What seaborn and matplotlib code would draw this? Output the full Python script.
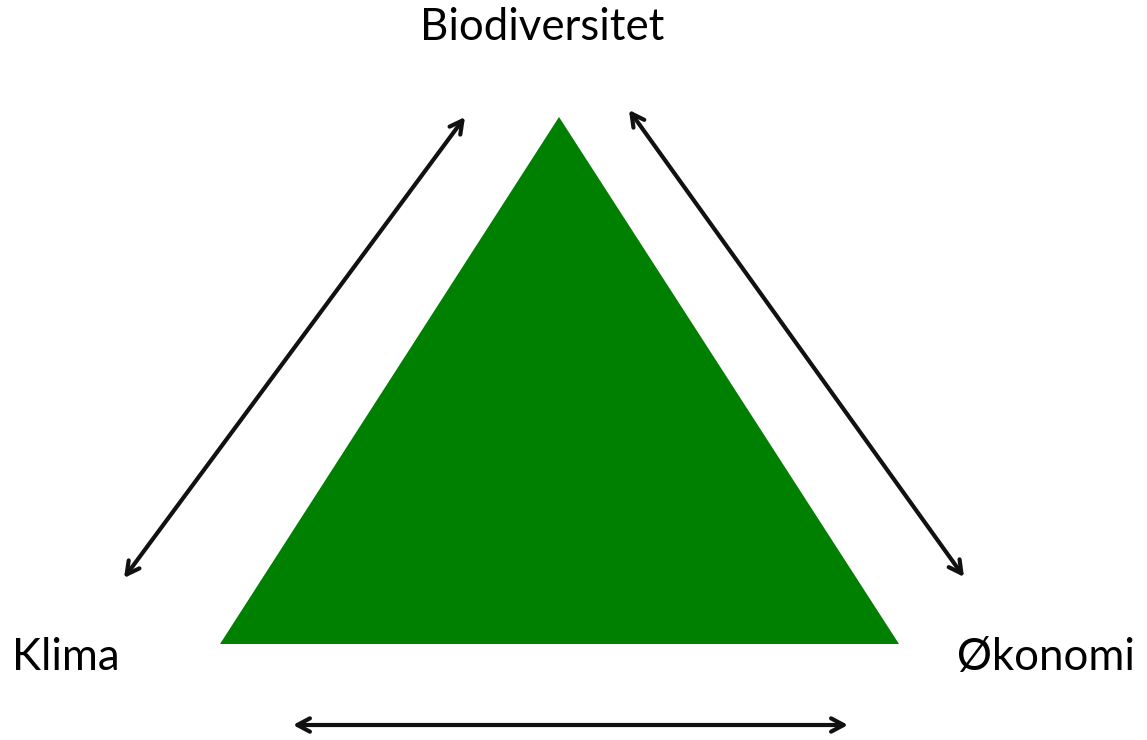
import numpy as np
import matplotlib.pyplot as plt
import seaborn as sns

# Diagram content (pixel space of a 1147x740 canvas, y grows downward)
labels = ["Biodiversitet", "Klima", "Økonomi"]
label_x = [542, 66, 1046]
label_y = [28, 657, 657]

triangle_x = [559, 220, 899]
triangle_y = [117, 644, 644]

arrow_start_x = [465, 629, 293]
arrow_start_y = [117, 110, 725]
arrow_end_x = [124, 964, 848]
arrow_end_y = [578, 577, 725]

sns.set_theme(style="white")
plt.rcParams['font.family'] = ['Lato', 'DejaVu Sans']

fig, ax = plt.subplots(figsize=(11.47, 7.40), dpi=100)
fig.subplots_adjust(left=0, right=1, bottom=0, top=1)

ax.fill(triangle_x, triangle_y, color='#008000', linewidth=0)

for x0, y0, x1, y1 in zip(arrow_start_x, arrow_start_y, arrow_end_x, arrow_end_y):
    ax.annotate('', xy=(x1, y1), xytext=(x0, y0),
                arrowprops=dict(arrowstyle='<->,head_length=0.75,head_width=0.4',
                                color='#111111', lw=3.0, shrinkA=0, shrinkB=0,
                                capstyle='round', joinstyle='round'))

for lab, x, y in zip(labels, label_x, label_y):
    ax.text(x, y, lab, ha='center', va='center', fontsize=31.5, color='black')

ax.set_xlim(0, 1147)
ax.set_ylim(740, 0)
ax.axis('off')

fig.savefig('out.png', dpi=100)
